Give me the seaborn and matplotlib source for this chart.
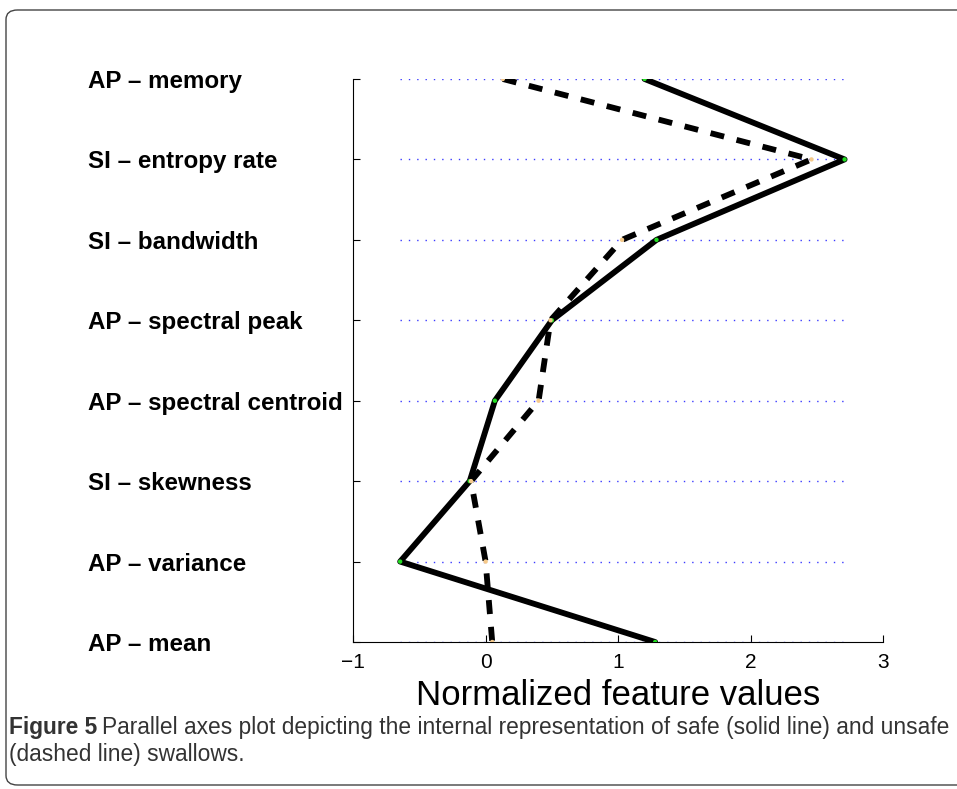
import numpy as np
import pandas as pd
import matplotlib.pyplot as plt
import seaborn as sns
from matplotlib.patches import FancyBboxPatch

# features, top to bottom
features = ['AP – memory', 'SI – entropy rate', 'SI – bandwidth', 'AP – spectral peak',
            'AP – spectral centroid', 'SI – skewness', 'AP – variance', 'AP – mean']
safe = [1.20, 2.71, 1.29, 0.50, 0.07, -0.12, -0.645, 1.28]
unsafe = [0.13, 2.46, 1.03, 0.49, 0.40, -0.11, 0.00, 0.05]
xticks = [-1, 0, 1, 2, 3]
xticklabels = ['−1', '0', '1', '2', '3']

pos = list(range(len(features) - 1, -1, -1))
df = pd.DataFrame({
    'feature': features * 2,
    'pos': pos * 2,
    'value': safe + unsafe,
    'group': ['safe'] * len(features) + ['unsafe'] * len(features),
})

sns.set_style("white")
plt.rcParams['font.family'] = ['Liberation Sans', 'DejaVu Sans']

fig = plt.figure(figsize=(9.57, 7.89), dpi=100)
ax = fig.add_axes([0.369, 0.1863, 0.5537, 0.7136])

# dotted guide lines across the data range
lo, hi = df['value'].min(), df['value'].max()
for p in pos:
    ax.hlines(p, lo, hi, colors='#3a3aff', linestyles=(0, (1, 5)), linewidth=1.0, zorder=1)

sns.lineplot(data=df, x='value', y='pos', style='group', orient='y', sort=False,
             estimator=None, color='black', linewidth=4.2,
             dashes={'safe': '', 'unsafe': (2.4, 2.2)}, legend=False, ax=ax, zorder=3)
sns.scatterplot(data=df, x='value', y='pos', hue='group',
                palette={'safe': '#22dd22', 'unsafe': '#f5c98a'}, s=10,
                linewidth=0, legend=False, ax=ax, zorder=4)

ax.set_xlim(-1, 3)
ax.set_ylim(0, len(features) - 1)
ax.set_xticks(xticks)
ax.set_xticklabels(xticklabels, fontsize=15, color='black')
ax.set_yticks(pos)
ax.set_yticklabels(features, fontsize=17.4, fontweight='bold', color='black')
for lab in ax.get_yticklabels():
    lab.set_horizontalalignment('left')
ax.tick_params(axis='y', left=True, direction='in', length=5, pad=191, width=0.8, color='black')
ax.tick_params(axis='x', bottom=True, direction='in', length=5, pad=8, width=0.8, color='black')
ax.set_xlabel('Normalized feature values', fontsize=25, labelpad=5, color='black')
ax.set_ylabel('')
for s in ['top', 'right']:
    ax.spines[s].set_visible(False)
for s in ['left', 'bottom']:
    ax.spines[s].set_color('black')
    ax.spines[s].set_linewidth(0.8)

# caption frame
frame = FancyBboxPatch((6 / 957, 4 / 789), 1.05, 775 / 789,
                       boxstyle='round,pad=0,rounding_size=0.012',
                       transform=fig.transFigure, fill=False,
                       edgecolor='#444444', linewidth=1.0, clip_on=False)
fig.patches.append(frame)

# caption, sized so the first line spans the frame like the reference
cap_font = ['Liberation Sans', 'DejaVu Sans']
line1 = 'Parallel axes plot depicting the internal representation of safe (solid line) and unsafe'
fs = 15
t1 = fig.text(9 / 957, 1 - 734 / 789, 'Figure 5', fontsize=fs, fontweight='bold',
              color='#333333', family=cap_font)
t2 = fig.text(0, 1 - 734 / 789, line1, fontsize=fs, color='#333333', family=cap_font)
fig.canvas.draw()
r = fig.canvas.get_renderer()
w = t1.get_window_extent(r).width + 5 + t2.get_window_extent(r).width
fs = fs * 941 / w
t1.set_fontsize(fs)
t2.set_fontsize(fs)
fig.canvas.draw()
bb = t1.get_window_extent(r)
t2.set_x((bb.x1 + 5) / 957)
fig.text(9 / 957, 1 - 761 / 789, '(dashed line) swallows.', fontsize=fs,
         color='#333333', family=cap_font)

fig.savefig('out.png', dpi=100)
